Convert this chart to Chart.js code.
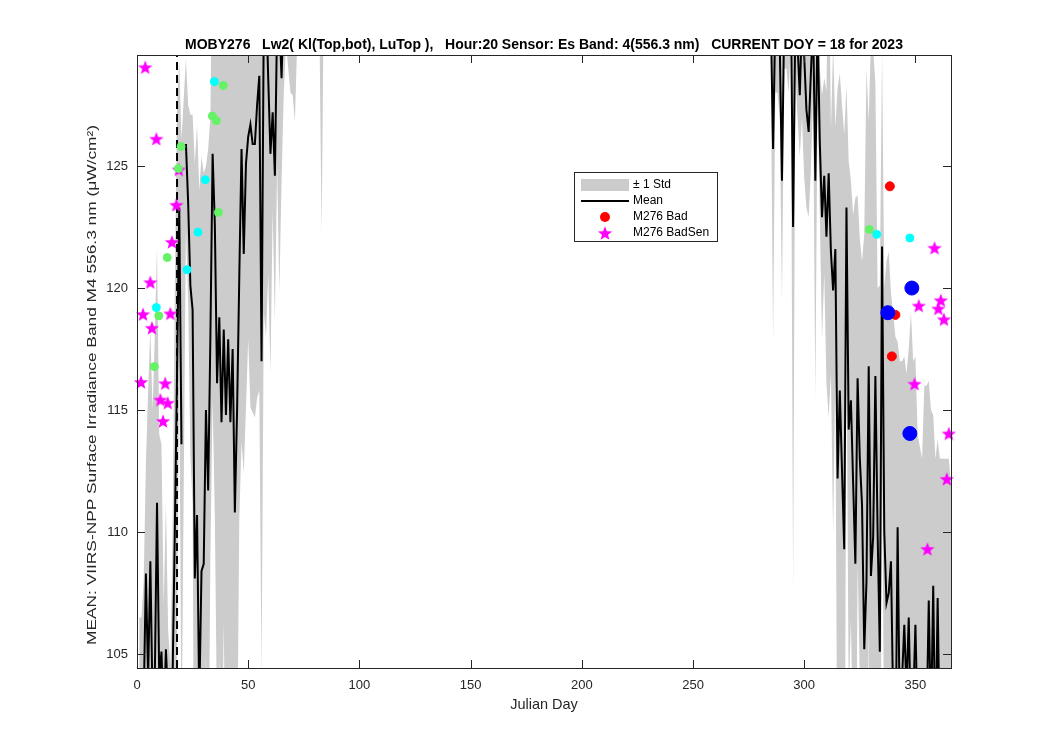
<!DOCTYPE html>
<html>
<head>
<meta charset="utf-8">
<script src="https://cdn.jsdelivr.net/npm/chart.js@4.4.0/dist/chart.umd.min.js"></script>
<style>
html, body { margin: 0; padding: 0; background: #fff; }
</style>
</head>
<body>
<canvas id="chart" width="1050" height="750"></canvas>
<script>
// days of the first cluster (early year) and the mean / std per day
const dayL = [1,2,3,4,5,6,7,8,9,10,11,12,13,14,15,16,17,18,19,20,21,22,23,24,25,26,27,28,29,30,
  31,32,33,34,35,36,37,38,39,40,41,42,43,44,45,46,47,48,49,50,51,52,53,54,55,56,57,58,59,60,
  61,62,63,64,65,66,67,68,69,70,71,72,73,74,75,76,77,78,79,80,81,82,83,84];
const meanL = [103,104,103,108.3,104,108.8,103,104,111.2,104,105.1,102,105.2,103,102,104,110,116.5,123.3,113.6,
  null,125.9,123.5,120.1,119.1,108.1,110.7,103,108.4,108.7,115,111.7,118,125.5,122.6,116.1,118.8,114.5,118.3,114.8,
  117.9,114.5,117.5,110.8,115,120.5,125.7,121.4,125.1,126.2,126.7,125.9,125.9,127.5,128.7,117,131,132,128.6,125.5,
  127.2,124.6,131,131,128.6,132,134,133,132,131.5,131,133,134,134,134,134,134,134,134,134,134,134,132,134];
const stdL = [3.5,2.5,5,4.5,11.8,9.5,12,14,10.5,10,8.5,5,6,3,2.5,6,10,11,6,12.5,
  20,3.5,4,7,8,17,16,21,17,16,10,14,9,10,12,14,14,16,12,17,
  15,16,14,20,15,10,12,9,10,8.3,11.6,11,11.2,12,12.9,13,12,14,8,9,
  4,6,6,11.2,4.2,4,4,4,4,3.6,4.2,3,2,2,2,2,2,2,2,2,2,3,9.8,2];

// days of the second cluster (end of year)
const dayR = [285,286,287,288,289,290,291,292,293,294,295,296,297,298,299,300,301,302,303,304,
  305,306,307,308,309,310,311,312,313,314,315,316,317,318,319,320,321,322,323,324,
  325,326,327,328,329,330,331,332,333,334,335,336,337,338,339,340,341,342,343,344,
  345,346,347,348,349,350,351,352,353,354,355,356,357,358,359,360,361,362,363,364,365,366];
const meanR = [131,125.7,131,130,130,124.4,131,130.5,131,132,122.5,131,130,127.9,131,129.5,127.3,126.4,128.8,131,
  124.4,131,126,122.9,124.6,122.1,124.7,121.5,119.9,121.6,112.2,115.8,112.5,109.3,123.3,114.2,115.4,112,108.7,116.3,
  113,111.1,105.2,108,116.8,108.2,109.8,116.4,110,105.1,121.7,110,107.1,107.5,108.8,103,100,110.2,102,104,
  106.2,103.5,106.5,102,103,106.2,102,101,100,101,102,107.2,102,107.8,101,107.3,101,100,101,102,101,101];
const stdR = [2,8,3,2,3,5,2,1.5,3,2,15,2,3,2.5,4,5,4,3.5,4,3,
  9,3,3,5,4,6,10,5,10,5,16,13,15,17,5,11,9,11,15,7.5,
  9,10,17,21,10,22,20,12,10,15,8,10,14,14,11,16,18,7.6,15,13,
  11,13,11,17,14,11,12,12.5,13,15,14,9,13,7,12,6.5,12,13,12,11,12,11];

// flagged points
const badDay = [338.5, 341.0, 339.4];
const badVal = [124.17, 118.9, 117.2];
const badSenDay = [3.7, 8.7, 18.8, 17.7, 15.7, 6.0, 2.7, 15.0, 6.7, 1.8, 12.7, 10.5, 13.8, 11.7,
  358.6, 351.5, 361.4, 360.3, 362.8, 349.6, 365.0, 364.1, 355.4];
const badSenVal = [129.05, 126.12, 124.86, 123.41, 121.89, 120.24, 118.93, 118.96, 118.37, 116.15, 116.1, 115.43, 115.3, 114.55,
  121.65, 119.28, 119.5, 119.16, 118.72, 116.08, 114.04, 112.18, 109.31];
const greenDay = [38.8, 33.9, 35.7, 19.8, 36.6, 13.6, 9.8, 7.8, 18.6, 329.3];
const greenVal = [128.3, 127.05, 126.86, 125.8, 123.1, 121.25, 118.86, 116.78, 124.9, 122.4];
const cyanDay = [34.8, 30.7, 27.4, 22.5, 8.7, 332.6, 347.5];
const cyanVal = [128.46, 124.44, 122.29, 120.75, 119.2, 122.2, 122.05];
const blueDay = [348.4, 337.6, 347.5];
const blueVal = [120.0, 118.99, 114.04];

const currentDoy = 18;
const xTicks = [0, 50, 100, 150, 200, 250, 300, 350];
const yTicks = [105, 110, 115, 120, 125];
const xMin = 0, xMax = 366;
const yMin = 104.43, yMax = 129.55;

const FONT = '"Liberation Sans", Arial, Helvetica, sans-serif';
const AXIS = '#262626';

function pts(xs, ys) {
    const out = [];
    for (let i = 0; i < xs.length; i++) out.push({x: xs[i], y: ys[i]});
    return out;
}
function band(days, mean, std, sign) {
    const out = [];
    for (let i = 0; i < days.length; i++) {
        if (mean[i] === null) continue;
        out.push({x: days[i], y: mean[i] + sign * std[i]});
    }
    return out;
}
function makeStar(size, color) {
    const c = document.createElement('canvas');
    c.width = size; c.height = size;
    const g = c.getContext('2d');
    const cx = size / 2, cy = size / 2 + 0.8, R = size / 2 - 0.5, r = R * 0.42;
    g.beginPath();
    for (let i = 0; i < 10; i++) {
        const a = -Math.PI / 2 + i * Math.PI / 5;
        const rad = i % 2 ? r : R;
        const px = cx + rad * Math.cos(a), py = cy + rad * Math.sin(a);
        if (i === 0) g.moveTo(px, py); else g.lineTo(px, py);
    }
    g.closePath();
    g.fillStyle = color;
    g.fill();
    return c;
}
const star = makeStar(16, '#ff00ff');

function bandSet(data, fill) {
    return { data: data, showLine: true, fill: fill, backgroundColor: '#cccccc',
        borderWidth: 0, borderColor: 'rgba(0,0,0,0)', pointRadius: 0, order: 5, spanGaps: true };
}

const frame = {
    id: 'frame',
    afterDraw(chart) {
        const ctx = chart.ctx;
        const a = chart.chartArea;
        const xs = chart.scales.x, ys = chart.scales.y;
        ctx.save();
        ctx.strokeStyle = AXIS;
        ctx.lineWidth = 1;
        ctx.strokeRect(Math.round(a.left) + 0.5, Math.round(a.top) + 0.5,
            Math.round(a.right - a.left), Math.round(a.bottom - a.top));
        ctx.beginPath();
        xTicks.forEach(v => {
            const px = Math.round(xs.getPixelForValue(v)) + 0.5;
            ctx.moveTo(px, a.bottom); ctx.lineTo(px, a.bottom - 8);
            ctx.moveTo(px, a.top); ctx.lineTo(px, a.top + 8);
        });
        yTicks.forEach(v => {
            const py = Math.round(ys.getPixelForValue(v)) + 0.5;
            ctx.moveTo(a.left, py); ctx.lineTo(a.left + 8, py);
            ctx.moveTo(a.right, py); ctx.lineTo(a.right - 8, py);
        });
        ctx.stroke();

        // title and axis labels
        const cx = (a.left + a.right) / 2;
        ctx.fillStyle = '#000';
        ctx.textAlign = 'center';
        ctx.textBaseline = 'middle';
        ctx.font = 'bold 14px ' + FONT;
        ctx.fillText('MOBY276   Lw2( Kl(Top,bot), LuTop ),   Hour:20 Sensor: Es Band: 4(556.3 nm)   CURRENT DOY = 18 for 2023', cx, 45);
        ctx.fillStyle = AXIS;
        ctx.font = '14.5px ' + FONT;
        ctx.fillText('Julian Day', cx, 705);
        const ylab = 'MEAN: VIIRS-NPP Surface Irradiance Band M4 556.3 nm (\u03bcW/cm\u00b2)';
        ctx.font = '13.5px ' + FONT;
        const stretch = 520 / ctx.measureText(ylab).width;
        ctx.save();
        ctx.translate(92, 385);
        ctx.rotate(-Math.PI / 2);
        ctx.scale(stretch, 1);
        ctx.fillText(ylab, 0, 0);
        ctx.restore();

        // legend box
        const lx = 574, ly = 172, lw = 143, lh = 69;
        ctx.fillStyle = '#fff';
        ctx.fillRect(lx, ly, lw, lh);
        ctx.strokeStyle = AXIS;
        ctx.strokeRect(lx + 0.5, ly + 0.5, lw, lh);
        ctx.fillStyle = '#cccccc';
        ctx.fillRect(581, 179, 48, 12);
        ctx.strokeStyle = '#000';
        ctx.lineWidth = 2;
        ctx.beginPath(); ctx.moveTo(581, 201); ctx.lineTo(629, 201); ctx.stroke();
        ctx.fillStyle = '#ff0000';
        ctx.beginPath(); ctx.arc(605, 217, 5, 0, Math.PI * 2); ctx.fill();
        ctx.drawImage(star, 605 - 8, 233 - 8);
        ctx.fillStyle = '#000';
        ctx.textAlign = 'left';
        ctx.font = '12px ' + FONT;
        ctx.fillText('\u00b1 1 Std', 633, 185);
        ctx.fillText('Mean', 633, 201);
        ctx.fillText('M276 Bad', 633, 217);
        ctx.fillText('M276 BadSen', 633, 233);
        ctx.restore();
    }
};

new Chart(document.getElementById('chart'), {
    type: 'scatter',
    data: {
        datasets: [
            bandSet(band(dayL, meanL, stdL, 1), '+1'),
            bandSet(band(dayL, meanL, stdL, -1), false),
            bandSet(band(dayR, meanR, stdR, 1), '+1'),
            bandSet(band(dayR, meanR, stdR, -1), false),
            { data: pts(dayL, meanL), showLine: true, borderColor: '#000', borderWidth: 2,
              pointRadius: 0, order: 4, spanGaps: false },
            { data: pts(dayR, meanR), showLine: true, borderColor: '#000', borderWidth: 2,
              pointRadius: 0, order: 4, spanGaps: false },
            { data: [{x: currentDoy, y: yMin}, {x: currentDoy, y: yMax}], showLine: true,
              borderColor: '#000', borderWidth: 2, borderDash: [8, 5], pointRadius: 0, order: 3 },
            { data: pts(greenDay, greenVal), backgroundColor: '#66f266', borderColor: '#66f266',
              pointRadius: 4, borderWidth: 1, order: 2, clip: false },
            { data: pts(cyanDay, cyanVal), backgroundColor: '#00ffff', borderColor: '#00ffff',
              pointRadius: 4, borderWidth: 1, order: 2, clip: false },
            { data: pts(badSenDay, badSenVal), pointStyle: star, pointRadius: 8, order: 2, clip: false },
            { data: pts(badDay, badVal), backgroundColor: '#ff0000', borderColor: '#ff0000',
              pointRadius: 4.5, borderWidth: 1, order: 1, clip: false },
            { data: pts(blueDay, blueVal), backgroundColor: '#0000ff', borderColor: '#0000ff',
              pointRadius: 7, borderWidth: 1, order: 0, clip: false }
        ]
    },
    options: {
        responsive: false,
        animation: false,
        devicePixelRatio: 1,
        layout: { padding: { top: 55, right: 99, left: 0, bottom: 0 } },
        plugins: { legend: { display: false }, tooltip: { enabled: false } },
        scales: {
            x: {
                type: 'linear', min: xMin, max: xMax,
                grid: { display: false, drawTicks: false },
                border: { display: false },
                afterBuildTicks: s => { s.ticks = xTicks.map(v => ({value: v})); },
                afterFit: s => { s.height = 82; },
                ticks: { color: AXIS, font: { family: FONT, size: 13 }, padding: 10, maxRotation: 0 }
            },
            y: {
                type: 'linear', min: yMin, max: yMax,
                grid: { display: false, drawTicks: false },
                border: { display: false },
                afterBuildTicks: s => { s.ticks = yTicks.map(v => ({value: v})); },
                afterFit: s => { s.width = 137; },
                ticks: { color: AXIS, font: { family: FONT, size: 13 }, padding: 9 }
            }
        }
    },
    plugins: [frame]
});
</script>
</body>
</html>
